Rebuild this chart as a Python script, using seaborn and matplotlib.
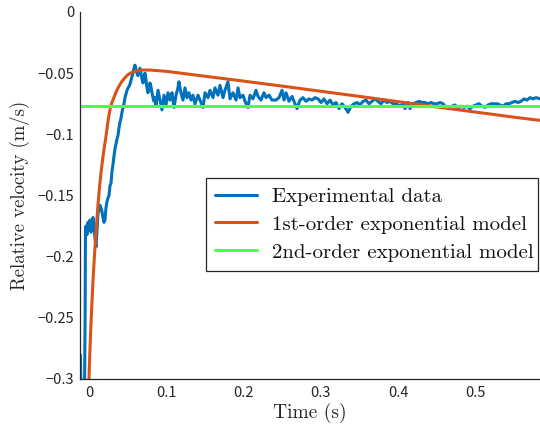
import numpy as np
import pandas as pd
import matplotlib
matplotlib.use("Agg")
import matplotlib.pyplot as plt
import seaborn as sns

# ---------------- data ----------------
exp_t_ms = [
    -12.0, -11.0, -10.0, -6.0, -5.0, -4.5,
    -3.9, -2.6, -1.3, 0.0, 1.3, 2.6, 3.9, 5.2, 6.5, 7.8, 9.1, 10.3, 11.6, 12.9,
    14.2, 15.5, 16.8, 18.1, 19.4, 20.7, 22.0, 23.3, 24.6, 25.9, 27.2, 28.5, 29.8,
    31.0, 32.3, 33.6, 34.9, 36.2, 37.5, 38.8, 40.1, 41.4, 42.7, 44.0, 45.3, 46.6,
    47.9, 49.2, 50.5, 51.7, 53.0, 54.3, 55.6, 56.9, 58.2, 59.5, 60.8, 62.1, 63.4,
    64.7, 66.0, 67.3, 68.6, 69.9, 71.2, 72.4, 73.7, 75.0, 76.3, 77.6, 78.9, 80.2,
    81.5, 82.8, 84.1, 85.4, 86.7, 88.0, 89.3, 90.5, 91.8, 93.1, 94.4, 95.7, 97.0,
    98.3, 99.6, 100.9, 102.2,
    104.8, 107.4, 110.0, 112.6, 115.1, 116.4, 119.0, 121.6, 124.2, 126.8, 129.4,
    132.0, 134.5, 137.1, 141.0, 143.6, 147.5, 150.1, 154.0, 156.5, 160.4, 163.0,
    166.9, 169.5, 173.4, 175.9, 179.8, 182.4, 186.3, 190.2, 192.8, 195.3, 199.2,
    201.8, 205.7, 208.3, 212.2, 216.0, 218.6, 222.5, 226.4, 229.0, 232.9, 236.7,
    241.9, 245.8, 249.7, 252.3, 254.9, 258.7, 262.6, 266.5, 269.1, 273.0, 276.8,
    280.7, 284.6, 288.5, 292.4, 296.3, 300.1, 304.0, 307.9, 311.8, 315.7, 319.5,
    323.4, 327.3, 331.2, 335.1, 339.0, 342.8, 346.7, 350.6, 354.5, 358.3, 362.2,
    366.1, 370.0, 373.9, 377.7, 381.6, 385.5, 389.4, 393.3, 397.2, 402.3, 406.2,
    408.8, 412.7, 415.3, 419.2, 423.0, 426.9, 430.8, 434.7, 438.5, 442.4, 446.3,
    450.2, 454.1, 458.0, 461.8, 465.7, 469.6, 473.5, 477.4, 481.2, 485.1, 489.0,
    492.9, 496.8, 500.6, 504.5, 508.4, 512.3, 516.2, 520.1, 523.9, 527.8, 531.7,
    535.6, 539.5, 543.3, 547.2, 551.1, 555.0, 558.9, 562.7, 566.6, 570.5, 574.4,
    578.3, 583.4,
]
exp_v = [
    -0.279, -0.281, -0.320, -0.330, -0.250, -0.177,
    -0.175, -0.182, -0.172, -0.178, -0.170, -0.180, -0.172, -0.168, -0.175, -0.185,
    -0.192, -0.180, -0.165, -0.162,
    -0.158, -0.160, -0.163, -0.168, -0.172, -0.170, -0.160, -0.155, -0.152, -0.150,
    -0.142, -0.140, -0.130,
    -0.125, -0.118, -0.112, -0.108, -0.104, -0.101, -0.095, -0.090, -0.087, -0.082,
    -0.078, -0.075, -0.070,
    -0.067, -0.064, -0.062, -0.061, -0.059, -0.056, -0.053, -0.050, -0.046, -0.0435,
    -0.047, -0.050, -0.052,
    -0.048, -0.046, -0.050, -0.055, -0.058, -0.054, -0.050, -0.055, -0.062, -0.066,
    -0.063, -0.058, -0.061,
    -0.066, -0.070, -0.073, -0.070, -0.076, -0.070, -0.064, -0.068, -0.072, -0.076,
    -0.080, -0.074, -0.068,
    -0.072, -0.076, -0.071, -0.066,
    -0.072, -0.066, -0.078, -0.068, -0.062, -0.057, -0.066, -0.072, -0.062, -0.070,
    -0.066,
    -0.072, -0.068, -0.075, -0.068, -0.072, -0.078, -0.066, -0.070, -0.064, -0.070,
    -0.062,
    -0.068, -0.060, -0.070, -0.064, -0.057, -0.071, -0.066, -0.072, -0.062, -0.070,
    -0.068,
    -0.073, -0.078, -0.068, -0.071, -0.064, -0.069, -0.072, -0.066, -0.070, -0.068,
    -0.072,
    -0.072, -0.070, -0.064, -0.072, -0.066, -0.073, -0.069, -0.075, -0.079, -0.072,
    -0.070,
    -0.073, -0.071, -0.072, -0.070, -0.071, -0.074, -0.071, -0.075, -0.072, -0.076,
    -0.074,
    -0.079, -0.075, -0.078, -0.082, -0.077, -0.075, -0.074, -0.076, -0.073, -0.072,
    -0.075,
    -0.073, -0.071, -0.073, -0.075, -0.072, -0.074, -0.073, -0.075, -0.075, -0.077,
    -0.075,
    -0.079, -0.074, -0.079, -0.075, -0.074, -0.073, -0.074, -0.074, -0.075, -0.074,
    -0.075,
    -0.075, -0.074, -0.075, -0.078, -0.079, -0.077, -0.076, -0.079, -0.077, -0.078,
    -0.077,
    -0.079, -0.077, -0.076, -0.075, -0.077, -0.078, -0.076, -0.075, -0.075, -0.075,
    -0.076,
    -0.077, -0.075, -0.075, -0.074, -0.073, -0.074, -0.073, -0.071, -0.072, -0.070,
    -0.071,
    -0.070, -0.071,
]

model1_t_ms = [-1.0, 0.0, 1.0, 2.0, 3.0, 5.0, 7.3, 9.5, 11.5, 13.8, 16.0, 18.0, 20.0,
               22.4, 25.0, 27.6, 30.0, 35.0, 38.0, 41.8, 45.0, 50.5, 55.0, 60.0,
               70.0, 80.0, 100.0, 150.0, 200.0, 250.0, 300.0, 350.0, 400.0, 450.0,
               500.0, 550.0, 583.4]
model1_v = [-0.322, -0.300, -0.281, -0.264, -0.249, -0.222, -0.197, -0.176, -0.159,
            -0.142, -0.129, -0.119, -0.110, -0.100, -0.0875, -0.0785, -0.0735, -0.0655,
            -0.0615, -0.0575, -0.0548, -0.0512, -0.0495, -0.0483, -0.0474, -0.0475,
            -0.0485, -0.0525, -0.0565, -0.0606, -0.0648, -0.0690, -0.0733, -0.0776,
            -0.0818, -0.0860, -0.0886]

model2_t_ms = [-12.0, 583.4]
model2_v = [-0.077, -0.077]

labels = ["Experimental data", "1st-order exponential model", "2nd-order exponential model"]
colors = ["#0072BD", "#D95319", "#4DFF4D"]

xticks = [0.0, 0.1, 0.2, 0.3, 0.4, 0.5]
xticklabels = ["0", "0.1", "0.2", "0.3", "0.4", "0.5"]
yticks = [0.0, -0.05, -0.1, -0.15, -0.2, -0.25, -0.3]
yticklabels = ["0", "\u22120.05", "\u22120.1", "\u22120.15", "\u22120.2", "\u22120.25", "\u22120.3"]

# ---------------- plot ----------------
sns.set_theme(style="white")
plt.rcParams["font.family"] = ["Noto Sans CJK JP", "DejaVu Sans"]

fig = plt.figure(figsize=(5.4, 4.32), dpi=100)
ax = fig.add_axes([80 / 540, (432 - 379) / 432, 460 / 540, 367 / 432])

series = [(exp_t_ms, exp_v), (model1_t_ms, model1_v), (model2_t_ms, model2_v)]
for (t, v), lab, col in zip(series, labels, colors):
    df = pd.DataFrame({"t": np.array(t) / 1000.0, "v": v})
    sns.lineplot(data=df, x="t", y="v", ax=ax, color=col, linewidth=2.2,
                 label=lab, estimator=None, sort=False)

ax.set_xlim(-0.0116, 0.5834)
ax.set_ylim(-0.3, 0.0)
ax.set_xticks(xticks)
ax.set_xticklabels(xticklabels)
ax.set_yticks(yticks)
ax.set_yticklabels(yticklabels)

axis_col = "#262626"
for side in ["top", "right"]:
    ax.spines[side].set_visible(False)
for side in ["left", "bottom"]:
    ax.spines[side].set_color(axis_col)
    ax.spines[side].set_linewidth(0.9)
ax.tick_params(axis="both", direction="in", length=4, width=0.8, color=axis_col,
               labelcolor=axis_col, labelsize=10.5, pad=5)
ax.tick_params(axis="y", pad=4)

ax.set_xlabel("Time (s)", fontfamily="cmr10", fontsize=14, color=axis_col)
ax.set_ylabel("Relative velocity (m/s)", fontfamily="cmr10", fontsize=13.5, color=axis_col)
ax.xaxis.set_label_coords(0.5, -0.066)
ax.yaxis.set_label_coords(-0.109, 0.5)

leg = ax.legend(loc="upper left", bbox_to_anchor=(0.274, 0.297, 0.722, 0.25),
                mode="expand", frameon=True, fancybox=False, framealpha=1.0,
                prop={"family": "cmr10", "size": 15}, handlelength=2.0,
                handletextpad=0.75, borderpad=0.43, labelspacing=0.45,
                borderaxespad=0.0)
leg.get_frame().set_edgecolor(axis_col)
leg.get_frame().set_linewidth(0.9)
for txt in leg.get_texts():
    txt.set_color("#111111")

fig.savefig("out.png", dpi=100)
